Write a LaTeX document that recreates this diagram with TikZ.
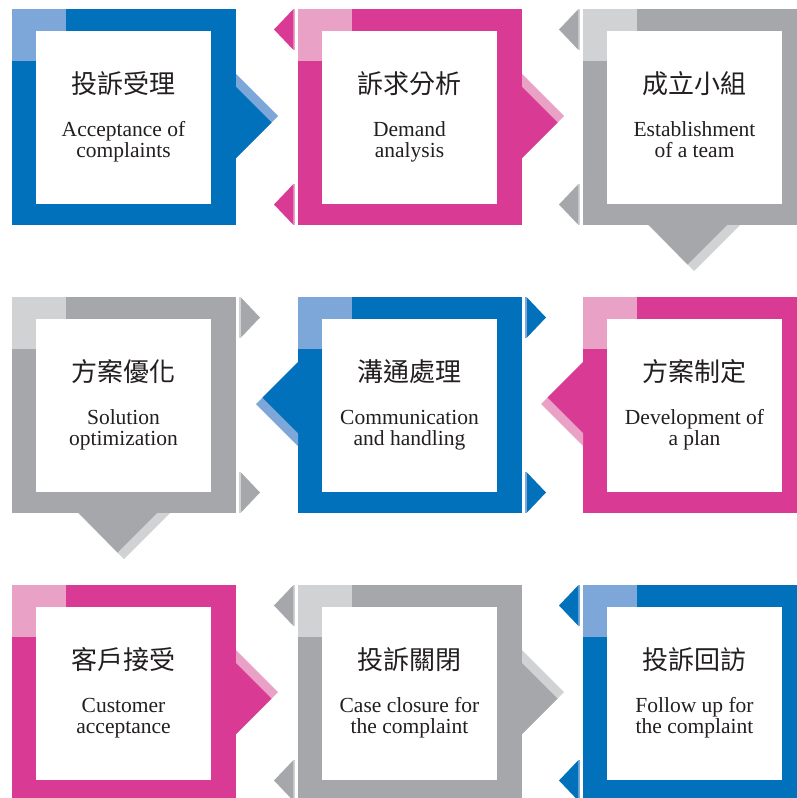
\documentclass[tikz,border=0pt]{standalone}
\usepackage{fontspec}
\setmainfont{Liberation Serif}
\newfontfamily\cjk{Noto Sans CJK TC}
\definecolor{bD}{HTML}{0071BA}
\definecolor{bL}{HTML}{7DA7D9}
\definecolor{pD}{HTML}{D93A94}
\definecolor{pL}{HTML}{E9A1C6}
\definecolor{gD}{HTML}{A6A7AB}
\definecolor{gL}{HTML}{D1D2D4}
\definecolor{txt}{HTML}{231F20}
\tikzset{
  zh/.style={font=\cjk\fontsize{26}{26}\selectfont, inner sep=0pt, anchor=center, text=txt},
  en/.style={font=\fontsize{21.5}{21}\selectfont, inner sep=0pt, anchor=base, text=txt},
}
% box: x, y(top), dark, light, name, zh, en1, en2
\newcommand\mybox[8]{%
  \fill[#3] (#1,#2) rectangle ++(224,216);
  \fill[#4] (#1,#2) rectangle ++(54,52);
  \fill[white] ({#1+24},{#2+22}) rectangle ++(175,173);
  \node[zh] (#5z) at ({#1+111.5},{#2+75}) {#6};
  \node[en] (#5a) at ({#1+111.5},{#2+127}) {#7};
  \node[en] (#5b) at ({#1+111.5},{#2+148}) {#8};
}
% right arrow: x of frame right edge, y centre, dark, light
\newcommand\myrarr[4]{%
  \fill[#4] (#1,{#2-42}) -- ({#1+42},#2) -- (#1,{#2+42}) -- cycle;
  \fill[#3] ({#1-1},{#2-30}) -- (#1,{#2-29}) -- ({#1+35.5},{#2+6.5}) -- (#1,{#2+42}) -- ({#1-1},{#2+42}) -- cycle;
}
% left arrow: x of frame left edge, y centre
\newcommand\mylarr[4]{%
  \fill[#4] (#1,{#2-42}) -- ({#1-42},#2) -- (#1,{#2+42}) -- cycle;
  \fill[#3] ({#1+1},{#2-42}) -- (#1,{#2-42}) -- ({#1-35.5},{#2-6.5}) -- (#1,{#2+29}) -- ({#1+1},{#2+30}) -- cycle;
}
% down arrow: x centre, y of frame bottom
\newcommand\mydarr[4]{%
  \fill[#4] ({#1-46},#2) -- ({#1+46},#2) -- (#1,{#2+46}) -- cycle;
  \fill[#3] ({#1-46},{#2-1}) -- ({#1-46},#2) -- ({#1+33},#2) -- ({#1-6.5},{#2+39.5}) -- cycle;
}
% small triangles pointing left, left of frame at x, frame top y
\newcommand\myltri[4]{%
  \fill[#3] ({#1-4.5},#2) -- ({#1-24},{#2+20.5}) -- ({#1-4.5},{#2+41}) -- cycle;
  \fill[#4] ({#1-4.5},#2) rectangle ({#1-3.3},{#2+41});
  \fill[#3] ({#1-4.5},{#2+175}) -- ({#1-24},{#2+195.5}) -- ({#1-4.5},{#2+216}) -- cycle;
  \fill[#4] ({#1-4.5},{#2+175}) rectangle ({#1-3.3},{#2+216});
}
% small triangles pointing right, right of frame at x, frame top y
\newcommand\myrtri[4]{%
  \fill[#3] ({#1+4.5},#2) -- ({#1+24},{#2+20.5}) -- ({#1+4.5},{#2+41}) -- cycle;
  \fill[#4] ({#1+3.3},#2) rectangle ({#1+4.5},{#2+41});
  \fill[#3] ({#1+4.5},{#2+175}) -- ({#1+24},{#2+195.5}) -- ({#1+4.5},{#2+216}) -- cycle;
  \fill[#4] ({#1+3.3},{#2+175}) rectangle ({#1+4.5},{#2+216});
}
\begin{document}
\begin{tikzpicture}[x=1pt,y=-1pt]
\useasboundingbox (0,0) rectangle (797,798);
\clip (0,0) rectangle (797,798);
\fill[white] (0,0) rectangle (797,798);
% row 1
\mybox{12}{9}{bD}{bL}{s1}{投訴受理}{Acceptance of}{complaints}
\myrarr{236}{116}{bD}{bL}
\mybox{298}{9}{pD}{pL}{s2}{訴求分析}{Demand}{analysis}
\myltri{298}{9}{pD}{pL}
\myrarr{522}{116}{pD}{pL}
\mybox{583}{9}{gD}{gL}{s3}{成立小組}{Establishment}{of a team}
\myltri{583}{9}{gD}{gL}
\mydarr{694}{225}{gD}{gL}
% row 2
\mybox{12}{297}{gD}{gL}{s4}{方案優化}{Solution}{optimization}
\myrtri{236}{297}{gD}{gL}
\mydarr{124}{513}{gD}{gL}
\mybox{298}{297}{bD}{bL}{s5}{溝通處理}{Communication}{and handling}
\mylarr{298}{404}{bD}{bL}
\myrtri{522}{297}{bD}{bL}
\mybox{583}{297}{pD}{pL}{s6}{方案制定}{Development of}{a plan}
\mylarr{583}{404}{pD}{pL}
% row 3
\mybox{12}{585}{pD}{pL}{s7}{客戶接受}{Customer}{acceptance}
\myrarr{236}{692}{pD}{pL}
\mybox{298}{585}{gD}{gL}{s8}{投訴關閉}{Case closure for}{the complaint}
\myltri{298}{585}{gD}{gL}
\myrarr{522}{692}{gD}{gL}
\mybox{583}{585}{bD}{bL}{s9}{投訴回訪}{Follow up for}{the complaint}
\myltri{583}{585}{bD}{bL}
\end{tikzpicture}
\end{document}
